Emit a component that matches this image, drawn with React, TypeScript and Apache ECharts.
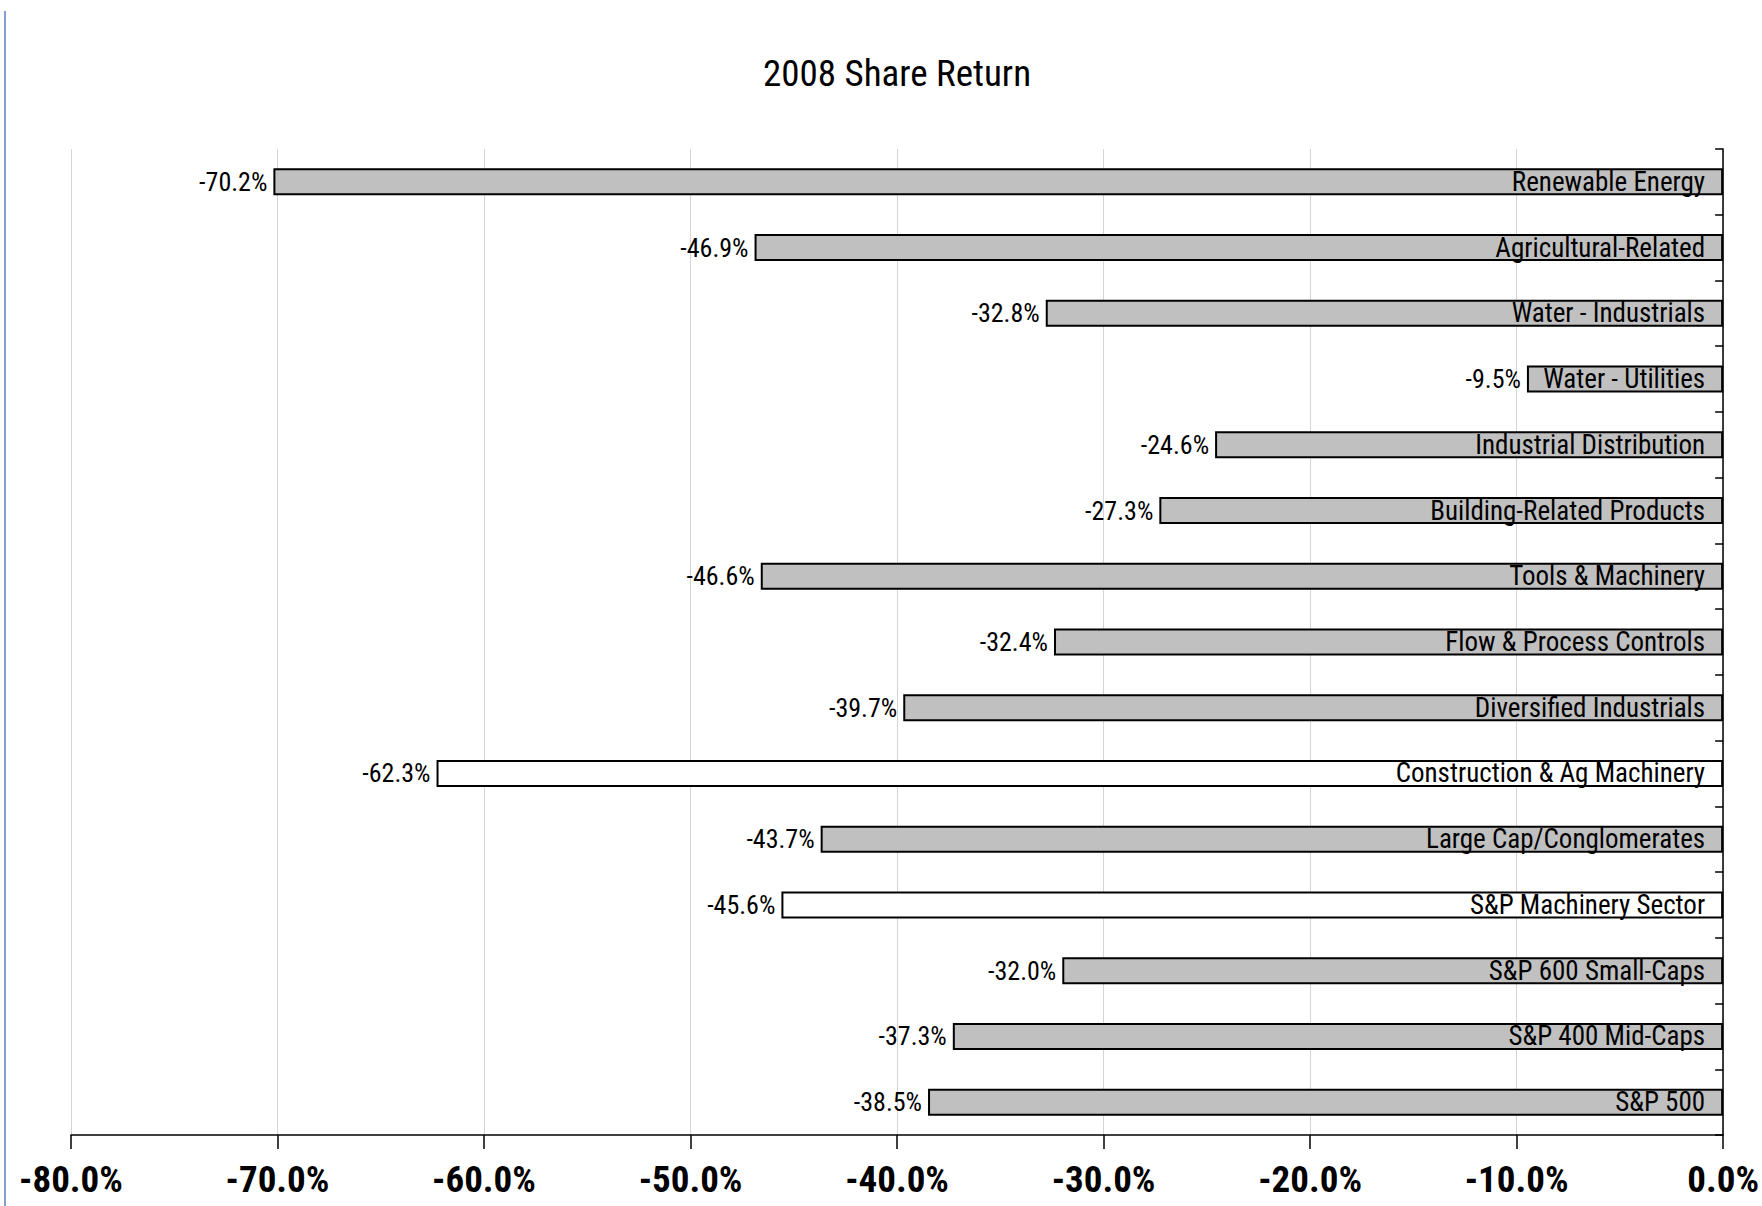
import React, { useEffect, useRef } from "react";
import * as echarts from "echarts";

const categories = [
  "Renewable Energy",
  "Agricultural-Related",
  "Water - Industrials",
  "Water - Utilities",
  "Industrial Distribution",
  "Building-Related Products",
  "Tools & Machinery",
  "Flow & Process Controls",
  "Diversified Industrials",
  "Construction & Ag Machinery",
  "Large Cap/Conglomerates",
  "S&P Machinery Sector",
  "S&P 600 Small-Caps",
  "S&P 400 Mid-Caps",
  "S&P 500",
];
const values = [-70.2, -46.9, -32.8, -9.5, -24.6, -27.3, -46.6, -32.4, -39.7, -62.3, -43.7, -45.6, -32.0, -37.3, -38.5];
const highlighted = ["Construction & Ag Machinery", "S&P Machinery Sector"];
const xMin = -80;
const xMax = 0;
const xStep = 10;
const title = "2008 Share Return";

const FONT = "'Liberation Sans Narrow', 'Arial Narrow', 'Roboto Condensed', sans-serif";

export default function App() {
  const ref = useRef<HTMLDivElement>(null);
  useEffect(() => {
    document.body.style.margin = "0";
    const chart = echarts.init(ref.current!, null, { renderer: "svg" });
    const barData = values.map((v, i) => ({
      value: v,
      itemStyle: { color: highlighted.includes(categories[i]) ? "#ffffff" : "#c0c0c0" },
    }));
    chart.setOption({
      animation: false,
      backgroundColor: "#ffffff",
      title: {
        text: title,
        left: 897,
        top: 55,
        padding: 0,
        textAlign: "center",
        textStyle: { fontFamily: FONT, fontSize: 37, fontWeight: "normal", color: "#000" },
      },
      graphic: [
        {
          type: "line",
          shape: { x1: 5, y1: 11, x2: 5, y2: 1206 },
          style: { stroke: "#5b7fc0", lineWidth: 1.5 },
        },
      ],
      grid: { left: 71, right: 38, top: 149, bottom: 71, containLabel: false },
      xAxis: {
        type: "value",
        min: xMin,
        max: xMax,
        interval: xStep,
        axisLine: { show: true, lineStyle: { color: "#000", width: 1.5 } },
        axisTick: { show: true, length: 14, lineStyle: { color: "#000", width: 1.5 } },
        axisLabel: {
          formatter: (v: number) => v.toFixed(1) + "%",
          fontFamily: FONT,
          fontSize: 37,
          fontWeight: "bold",
          color: "#000",
          margin: 26,
          lineHeight: 37,
        },
        splitLine: { show: true, lineStyle: { color: "#d4d4d4", width: 1 } },
      },
      yAxis: {
        type: "category",
        data: categories,
        inverse: true,
        position: "right",
        axisLine: { show: true, onZero: false, lineStyle: { color: "#000", width: 1.5 } },
        axisTick: { show: true, inside: true, length: 8, lineStyle: { color: "#000", width: 1.5 } },
        axisLabel: { show: false },
        splitLine: { show: false },
      },
      series: [
        {
          type: "bar",
          data: barData,
          barWidth: 27,
          itemStyle: { borderColor: "#000", borderWidth: 2 },
          label: {
            show: true,
            position: "left",
            distance: 6,
            formatter: (p: any) => Number(p.value).toFixed(1) + "%",
            fontFamily: FONT,
            fontSize: 26,
            color: "#000",
          },
          z: 2,
        },
        {
          type: "bar",
          data: values,
          barWidth: 27,
          barGap: "-100%",
          itemStyle: { color: "rgba(0,0,0,0)", borderWidth: 0 },
          label: {
            show: true,
            position: "insideRight",
            distance: 18,
            formatter: (p: any) => p.name,
            fontFamily: FONT,
            fontSize: 27,
            color: "#000",
          },
          silent: true,
          z: 3,
        },
      ],
    });
    return () => chart.dispose();
  }, []);
  return <div ref={ref} style={{ width: 1762, height: 1206 }} />;
}
